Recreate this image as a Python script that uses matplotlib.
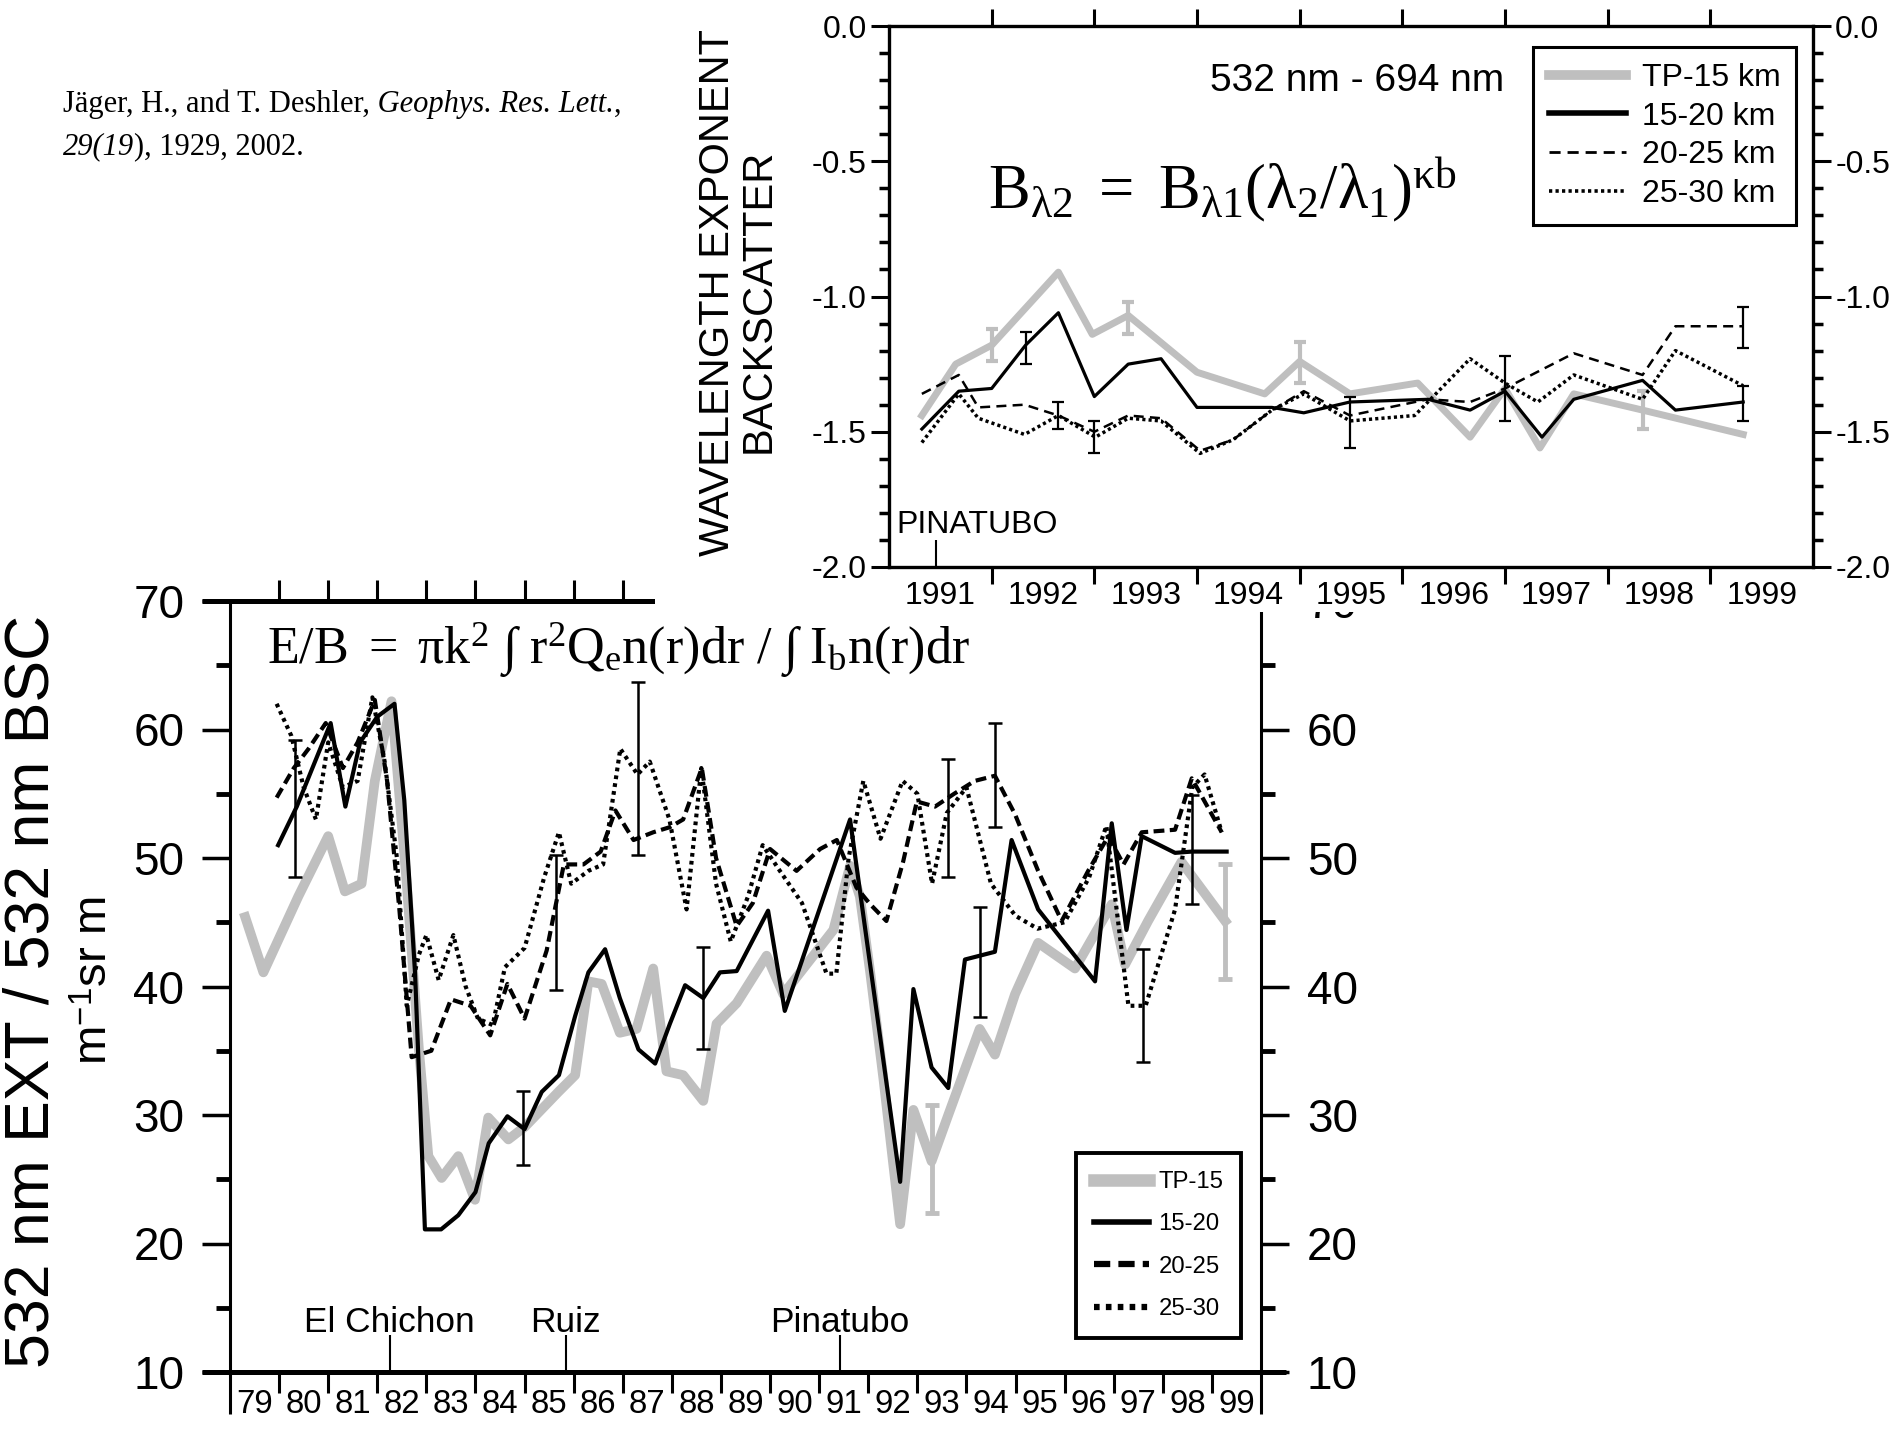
import matplotlib
matplotlib.use("Agg")
import matplotlib.pyplot as plt
from matplotlib import font_manager
from matplotlib.patches import Rectangle
from matplotlib.text import Annotation
from matplotlib.ticker import FixedLocator, FixedFormatter, MultipleLocator, NullFormatter, FormatStrFormatter

# ---------------- data: lower panel (E/B ratio, 1979-1999) ----------------
yr_tp = [1979.31, 1979.68, 1980.39, 1981.0, 1981.34, 1981.68, 1981.95, 1982.29, 1982.6, 1982.85,
         1983.04, 1983.31, 1983.65, 1983.99, 1984.26, 1984.67, 1985.01, 1985.69, 1986.03, 1986.3,
         1986.57, 1986.94, 1987.28, 1987.62, 1987.89, 1988.23, 1988.64, 1988.91, 1989.32, 1989.93,
         1990.27, 1991.29, 1991.63, 1991.83, 1992.04, 1992.31, 1992.65, 1992.92, 1993.29, 1993.63,
         1994.27, 1994.58, 1994.99, 1995.46, 1996.21, 1996.96, 1997.23, 1997.7, 1998.38, 1999.27]
eb_tp = [45.4, 41.1, 47.0, 51.7, 47.4, 48.0, 56.0, 62.2, 48.0, 35.0,
         26.8, 25.1, 26.8, 23.4, 29.8, 28.1, 29.1, 31.8, 33.1, 40.4,
         40.2, 36.4, 36.7, 41.4, 33.4, 33.1, 31.1, 37.1, 38.7, 42.4,
         39.4, 44.4, 49.4, 47.0, 41.1, 32.8, 21.5, 30.4, 26.4, 30.0,
         36.7, 34.7, 39.4, 43.4, 41.4, 46.4, 41.7, 45.1, 49.7, 45.1]

yr_1520 = [1979.98, 1980.36, 1981.05, 1981.35, 1981.65, 1982.0, 1982.35, 1982.55, 1982.77, 1982.97,
           1983.3, 1983.65, 1984.0, 1984.27, 1984.65, 1985.0, 1985.35, 1985.7, 1986.03, 1986.3,
           1986.64, 1986.94, 1987.32, 1987.66, 1987.96, 1988.27, 1988.64, 1988.98, 1989.32, 1989.96,
           1990.3, 1991.63, 1992.65, 1992.92, 1993.29, 1993.63, 1993.97, 1994.58, 1994.92, 1995.46,
           1996.62, 1996.96, 1997.26, 1997.57, 1998.25, 1998.59, 1999.3]
eb_1520 = [51.0, 54.0, 60.5, 54.0, 59.0, 61.0, 62.0, 54.5, 41.0, 21.1,
           21.1, 22.2, 24.0, 27.8, 29.9, 28.9, 31.8, 33.1, 37.7, 41.1,
           42.9, 39.1, 35.1, 34.0, 37.1, 40.1, 39.1, 41.1, 41.2, 45.9,
           38.1, 53.0, 24.8, 39.8, 33.7, 32.1, 42.1, 42.7, 51.4, 46.0,
           40.4, 52.7, 44.4, 51.7, 50.4, 50.5, 50.5]

yr_2025 = [1979.95, 1980.3, 1980.6, 1980.95, 1981.3, 1981.6, 1981.95, 1982.2, 1982.45, 1982.7,
           1983.1, 1983.5, 1983.9, 1984.3, 1984.65, 1985.0, 1985.45, 1985.8, 1986.2, 1986.55,
           1986.85, 1987.22, 1987.62, 1987.96, 1988.23, 1988.61, 1988.9, 1989.32, 1989.65, 1990.0,
           1990.54, 1991.02, 1991.36, 1991.76, 1992.04, 1992.37, 1992.71, 1992.99, 1993.36, 1993.75,
           1994.17, 1994.58, 1994.99, 1995.46, 1995.94, 1996.48, 1996.89, 1997.2, 1997.57, 1998.25,
           1998.59, 1999.2]
eb_2025 = [54.7, 57.0, 58.5, 60.5, 57.0, 59.0, 62.3, 56.0, 46.0, 34.5,
           35.0, 39.0, 38.5, 36.2, 40.2, 37.5, 42.8, 49.5, 49.5, 50.5,
           53.7, 51.4, 52.0, 52.4, 53.0, 57.0, 50.0, 44.7, 46.5, 50.7,
           49.0, 50.7, 51.4, 47.7, 46.4, 45.1, 49.7, 54.4, 54.0, 55.0,
           56.0, 56.4, 53.4, 49.0, 45.1, 49.0, 51.7, 49.5, 52.0, 52.2,
           56.2, 52.0]

yr_2530 = [1979.95, 1980.25, 1980.5, 1980.75, 1981.0, 1981.3, 1981.6, 1981.9, 1982.15, 1982.4,
           1982.6, 1982.85, 1983.0, 1983.25, 1983.55, 1983.8, 1984.05, 1984.35, 1984.6, 1985.0,
           1985.4, 1985.7, 1985.95, 1986.3, 1986.6, 1986.95, 1987.3, 1987.55, 1987.95, 1988.3,
           1988.6, 1988.9, 1989.2, 1989.55, 1989.85, 1990.2, 1990.65, 1991.15, 1991.35, 1991.6,
           1991.9, 1992.25, 1992.7, 1993.0, 1993.3, 1993.6, 1994.0, 1994.5, 1995.0, 1995.45,
           1996.0, 1996.5, 1996.85, 1997.3, 1997.65, 1998.25, 1998.6, 1998.85, 1999.2]
eb_2530 = [62.0, 59.5, 55.5, 53.0, 59.0, 55.5, 56.0, 62.5, 57.5, 50.0,
           38.5, 42.5, 44.0, 40.5, 44.0, 40.0, 37.5, 37.0, 41.5, 43.0,
           48.5, 52.0, 48.0, 49.0, 49.5, 58.5, 56.5, 57.5, 53.0, 46.0,
           57.0, 48.0, 43.5, 47.0, 51.0, 49.0, 46.5, 41.0, 41.0, 50.0,
           56.0, 51.5, 56.0, 55.0, 48.0, 53.5, 55.5, 48.0, 45.5, 44.5,
           45.0, 48.5, 52.5, 38.5, 38.5, 46.0, 55.5, 56.5, 52.0]

err_blk_x = [1980.32, 1984.97, 1985.65, 1987.32, 1988.64, 1993.63, 1994.27, 1994.58, 1997.6, 1998.59]
err_blk_lo = [48.5, 26.1, 39.7, 50.2, 35.1, 48.5, 37.6, 52.4, 34.1, 46.4]
err_blk_hi = [59.2, 31.9, 50.2, 63.7, 43.1, 57.7, 46.2, 60.5, 42.9, 54.9]
err_gry_x = [1993.29, 1999.27]
err_gry_lo = [22.4, 40.6]
err_gry_hi = [30.8, 49.5]

volcano_names = ["El Chichon", "Ruiz", "Pinatubo"]
volcano_years = [1982.25, 1985.84, 1991.42]

low_year_edges = list(range(1979, 2001))
low_labels = ["79", "80", "81", "82", "83", "84", "85", "86", "87", "88", "89",
              "90", "91", "92", "93", "94", "95", "96", "97", "98", "99"]
low_legend = ["TP-15", "15-20", "20-25", "25-30"]

# ---------------- data: upper panel (backscatter wavelength exponent) ----------------
up_yr_tp = [1991.32, 1991.65, 1992.0, 1992.65, 1992.98, 1993.33, 1994.0, 1994.66, 1995.0, 1995.49,
            1996.15, 1996.66, 1997.0, 1997.34, 1997.67, 1998.34, 1999.32]
up_tp = [-1.44, -1.25, -1.18, -0.91, -1.14, -1.07, -1.28, -1.36, -1.24, -1.36,
         -1.32, -1.52, -1.34, -1.56, -1.36, -1.42, -1.51]

up_yr_1520 = [1991.32, 1991.68, 1992.0, 1992.33, 1992.65, 1993.0, 1993.33, 1993.65, 1994.0, 1994.73,
              1995.04, 1995.49, 1996.25, 1996.66, 1997.0, 1997.36, 1997.67, 1998.34, 1998.66, 1999.32]
up_1520 = [-1.49, -1.35, -1.34, -1.18, -1.06, -1.37, -1.25, -1.23, -1.41, -1.41,
           -1.43, -1.39, -1.38, -1.42, -1.35, -1.52, -1.38, -1.31, -1.42, -1.39]

up_yr_2025 = [1991.32, 1991.68, 1991.87, 1992.32, 1992.65, 1993.0, 1993.33, 1993.65, 1994.03, 1994.35,
              1994.73, 1995.04, 1995.49, 1996.25, 1996.66, 1997.0, 1997.67, 1998.34, 1998.66, 1999.32]
up_2025 = [-1.36, -1.29, -1.41, -1.40, -1.44, -1.50, -1.44, -1.45, -1.57, -1.53,
           -1.42, -1.35, -1.44, -1.38, -1.39, -1.34, -1.21, -1.29, -1.11, -1.11]

up_yr_2530 = [1991.32, 1991.68, 1991.87, 1992.32, 1992.65, 1993.01, 1993.33, 1993.65, 1994.03, 1994.35,
              1994.73, 1995.04, 1995.49, 1996.12, 1996.66, 1997.0, 1997.32, 1997.67, 1998.34, 1998.66,
              1999.32]
up_2530 = [-1.54, -1.36, -1.45, -1.51, -1.44, -1.52, -1.45, -1.46, -1.58, -1.53,
           -1.42, -1.36, -1.46, -1.44, -1.23, -1.32, -1.39, -1.29, -1.38, -1.20,
           -1.33]

up_err_gry_x = [1992.0, 1993.33, 1995.0, 1998.34]
up_err_gry_lo = [-1.24, -1.14, -1.32, -1.49]
up_err_gry_hi = [-1.12, -1.02, -1.17, -1.35]
up_err_blk_x = [1992.33, 1992.65, 1993.0, 1995.49, 1997.0, 1999.32, 1999.32]
up_err_blk_lo = [-1.25, -1.49, -1.58, -1.56, -1.46, -1.46, -1.19]
up_err_blk_hi = [-1.13, -1.39, -1.46, -1.37, -1.22, -1.33, -1.04]

up_year_edges = list(range(1991, 2001))
up_labels = ["1991", "1992", "1993", "1994", "1995", "1996", "1997", "1998", "1999"]
up_legend = ["TP-15 km", "15-20 km", "20-25 km", "25-30 km"]
pinatubo_year = 1991.46

# ---------------- fonts ----------------
installed = {f.name for f in font_manager.fontManager.ttflist}
NARROW = "Liberation Sans Narrow" if "Liberation Sans Narrow" in installed else "Liberation Sans"
NS = 1.0 if NARROW == "Liberation Sans Narrow" else 0.82

plt.rcParams["font.family"] = ["Liberation Sans", "DejaVu Sans"]
plt.rcParams["axes.unicode_minus"] = False
plt.rcParams["mathtext.fontset"] = "custom"
plt.rcParams["mathtext.rm"] = "Liberation Serif"
plt.rcParams["mathtext.it"] = "Liberation Serif:italic"
plt.rcParams["mathtext.sf"] = "Liberation Sans"

GRAY = "#bfbfbf"
W, H = 1901, 1435

fig = plt.figure(figsize=(W / 100, H / 100), dpi=100)


def fx(px):
    return px / W


def fy(py):
    return 1 - py / H


def centers(edges):
    return [(a + b) / 2 for a, b in zip(edges[:-1], edges[1:])]


def text_run(x, y, pieces, size):
    # mixed upright / italic pieces on one baseline
    prev = fig.text(x, y, pieces[0][0], fontstyle=pieces[0][1], family="Liberation Serif",
                    fontsize=size, ha="left", va="baseline")
    for txt, style in pieces[1:]:
        ann = Annotation(txt, xy=(1, 0), xycoords=prev, ha="left", va="bottom",
                         fontstyle=style, family="Liberation Serif", fontsize=size)
        fig.add_artist(ann)
        prev = ann


# ================= lower panel =================
ax = fig.add_axes([fx(230), fy(1372), fx(1031), 771 / H])
ax.set_xlim(low_year_edges[0], low_year_edges[-1])
ax.set_ylim(10, 70)

ax.plot(yr_tp, eb_tp, color=GRAY, lw=7, label=low_legend[0], zorder=2)
ax.plot(yr_1520, eb_1520, color="black", lw=3, label=low_legend[1], zorder=3)
ax.plot(yr_2025, eb_2025, color="black", lw=3, dashes=(2.6, 1.3), label=low_legend[2], zorder=3)
ax.plot(yr_2530, eb_2530, color="black", lw=3, dashes=(0.9, 1.0), label=low_legend[3], zorder=3)

mid = [(a + b) / 2 for a, b in zip(err_blk_lo, err_blk_hi)]
half = [(b - a) / 2 for a, b in zip(err_blk_lo, err_blk_hi)]
ax.errorbar(err_blk_x, mid, yerr=half, fmt="none", ecolor="black", elinewidth=1.8,
            capsize=5, capthick=1.8, zorder=4)
mid = [(a + b) / 2 for a, b in zip(err_gry_lo, err_gry_hi)]
half = [(b - a) / 2 for a, b in zip(err_gry_lo, err_gry_hi)]
ax.errorbar(err_gry_x, mid, yerr=half, fmt="none", ecolor=GRAY, elinewidth=3.5,
            capsize=5, capthick=3.5, zorder=2)

# volcano markers
ax.vlines(volcano_years, 10, 12.9, color="black", lw=1.5)
for name, yr in zip(volcano_names, volcano_years):
    ax.text(yr, 13.1, name, ha="center", va="baseline", fontsize=31 * NS, family=NARROW)

for s in ["left", "right"]:
    ax.spines[s].set_linewidth(2.2)
for s in ["top", "bottom"]:
    ax.spines[s].set_linewidth(3.6)

ax.xaxis.set_major_locator(FixedLocator(low_year_edges[1:-1]))
ax.xaxis.set_major_formatter(NullFormatter())
ax.xaxis.set_minor_locator(FixedLocator(centers(low_year_edges)))
ax.xaxis.set_minor_formatter(FixedFormatter(low_labels))
ax.tick_params(axis="x", which="major", direction="out", top=True, bottom=True,
               length=15, width=2.2)
ax.tick_params(axis="x", which="minor", length=0, pad=12, labelsize=29 * NS,
               labelfontfamily=NARROW)

ax.yaxis.set_major_locator(MultipleLocator(10))
ax.yaxis.set_minor_locator(MultipleLocator(5))
ax.tick_params(axis="y", which="major", direction="out", left=True, right=True,
               labelleft=True, labelright=True, length=20, width=2.5, labelsize=33, pad=13)
ax.tick_params(axis="y", which="minor", direction="out", left=True, right=True,
               length=10, width=3.5)

# spine extensions beyond the frame
ax.plot([1978.43, low_year_edges[-1] + 0.5], [10, 10], color="black", lw=3.6,
        clip_on=False, solid_capstyle="butt")
ax.plot([1978.43, low_year_edges[-1]], [70, 70], color="black", lw=3.6,
        clip_on=False, solid_capstyle="butt")
for xe in (low_year_edges[0], low_year_edges[-1]):
    ax.plot([xe, xe], [10, 6.7], color="black", lw=2.2, clip_on=False, solid_capstyle="butt")

leg = ax.legend(loc="upper left", bbox_to_anchor=(fx(1076), fy(1153)),
                bbox_transform=fig.transFigure, borderaxespad=0, fancybox=False,
                framealpha=1, edgecolor="black", handlelength=2.3, handletextpad=0.4,
                labelspacing=0.85, borderpad=0.75, prop={"family": NARROW, "size": 21 * NS})
leg.get_frame().set_linewidth(2.8)
for h, lw in zip(leg.legend_handles, [9, 4, 4.5, 4.5]):
    h.set_linewidth(lw)

# ================= white cover for the inset =================
fig.add_artist(Rectangle((fx(655), fy(612)), 1 - fx(655), 612 / H,
                         transform=fig.transFigure, facecolor="white",
                         edgecolor="none", zorder=1))

# ================= upper panel =================
ax2 = fig.add_axes([fx(889), fy(567), fx(924), 541 / H])
ax2.set_zorder(2)
ax2.set_xlim(up_year_edges[0], up_year_edges[-1])
ax2.set_ylim(-2, 0)

ax2.plot(up_yr_tp, up_tp, color=GRAY, lw=5, label=up_legend[0], zorder=2)
ax2.plot(up_yr_1520, up_1520, color="black", lw=2.3, label=up_legend[1], zorder=3)
ax2.plot(up_yr_2025, up_2025, color="black", lw=1.8, dashes=(4, 2.5), label=up_legend[2], zorder=3)
ax2.plot(up_yr_2530, up_2530, color="black", lw=2.5, dashes=(0.9, 0.9), label=up_legend[3], zorder=3)

mid = [(a + b) / 2 for a, b in zip(up_err_gry_lo, up_err_gry_hi)]
half = [(b - a) / 2 for a, b in zip(up_err_gry_lo, up_err_gry_hi)]
ax2.errorbar(up_err_gry_x, mid, yerr=half, fmt="none", ecolor=GRAY, elinewidth=3,
             capsize=4.5, capthick=3, zorder=2)
mid = [(a + b) / 2 for a, b in zip(up_err_blk_lo, up_err_blk_hi)]
half = [(b - a) / 2 for a, b in zip(up_err_blk_lo, up_err_blk_hi)]
ax2.errorbar(up_err_blk_x, mid, yerr=half, fmt="none", ecolor="black", elinewidth=1.6,
             capsize=4.5, capthick=1.6, zorder=4)

ax2.vlines([pinatubo_year], -2.0, -1.9, color="black", lw=1.5)
ax2.text(1991.07, -1.845, "PINATUBO", ha="left", va="center", fontsize=23)

for s in ax2.spines.values():
    s.set_linewidth(2.4)

ax2.xaxis.set_major_locator(FixedLocator(up_year_edges[1:-1]))
ax2.xaxis.set_major_formatter(NullFormatter())
ax2.xaxis.set_minor_locator(FixedLocator(centers(up_year_edges)))
ax2.xaxis.set_minor_formatter(FixedFormatter(up_labels))
ax2.tick_params(axis="x", which="major", direction="out", top=True, bottom=True,
                length=12, width=2.2)
ax2.tick_params(axis="x", which="minor", length=0, pad=10, labelsize=23)

ax2.yaxis.set_major_locator(MultipleLocator(0.5))
ax2.yaxis.set_major_formatter(FormatStrFormatter("%.1f"))
ax2.yaxis.set_minor_locator(MultipleLocator(0.1))
ax2.tick_params(axis="y", which="major", direction="out", left=True, right=True,
                labelleft=True, labelright=True, length=13, width=2.2, labelsize=23, pad=3)
ax2.tick_params(axis="y", which="minor", direction="out", left=True, right=True,
                length=7, width=2.5)

leg2 = ax2.legend(loc="upper left", bbox_to_anchor=(fx(1533), fy(47)),
                  bbox_transform=fig.transFigure, borderaxespad=0, fancybox=False,
                  framealpha=1, edgecolor="black", handlelength=2.4, handletextpad=0.5,
                  labelspacing=0.27, borderpad=0.5, fontsize=23)
leg2.get_frame().set_linewidth(2.2)
for h, lw in zip(leg2.legend_handles, [7, 4, 2, 2.6]):
    h.set_linewidth(lw)

# ================= figure texts =================
fig.text(fx(1357), fy(81), "532 nm - 694 nm", ha="center", va="center", fontsize=28)
fig.text(fx(718), fy(292), "WAVELENGTH EXPONENT", rotation=90, ha="center", va="center",
         fontsize=30)
fig.text(fx(759), fy(301), "BACKSCATTER", rotation=90, ha="center", va="center", fontsize=30)

fig.text(fx(32), fy(991), "532 nm EXT / 532 nm BSC", rotation=90, ha="center", va="center",
         fontsize=45)
fig.text(fx(95), fy(980), r"m$^{\mathsf{-1}}$sr m", rotation=90, ha="center", va="center",
         fontsize=34)

fig.text(fx(988), fy(208), r"$\mathrm{B_{λ2}\ =\ B_{λ1}(λ_{2}/λ_{1})^{κb}}$",
         ha="left", va="baseline", fontsize=45)
fig.text(fx(267), fy(664),
         r"$\mathrm{E/B\ =\ πk^{2}\ ∫\ r^{2}Q_{e}n(r)dr\ /\ ∫\ I_{b}n(r)dr}$",
         ha="left", va="baseline", fontsize=37.5)

text_run(fx(63), fy(112), [("Jäger, H., and T. Deshler,", "normal"),
                           (" Geophys. Res. Lett.", "italic"), (",", "normal")], 22)
text_run(fx(63), fy(154), [("29(19", "italic"), ("), 1929, 2002.", "normal")], 22)

fig.savefig("out.png", dpi=100)
